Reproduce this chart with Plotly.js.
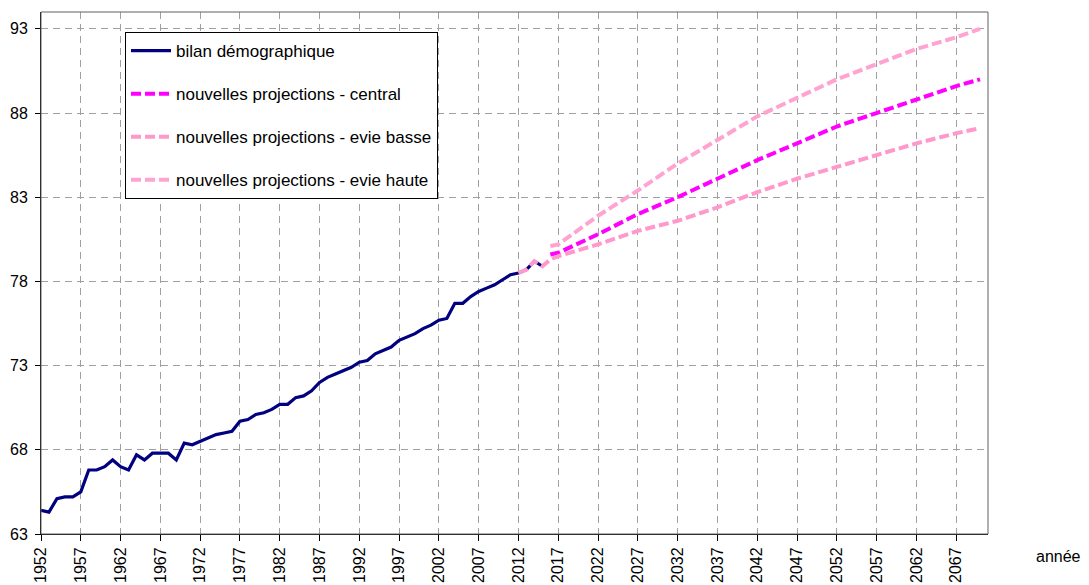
<!DOCTYPE html>
<html>
<head>
<meta charset="utf-8">
<script src="https://cdn.plot.ly/plotly-3.0.1.min.js"></script>
<style>
  html, body { margin: 0; padding: 0; background: #fff; }
  #chart { width: 1089px; height: 585px; }
</style>
</head>
<body>
<div id="chart"></div>
<script>
// ---- data ----
const histYears = [1952,1953,1954,1955,1956,1957,1958,1959,1960,1961,1962,1963,1964,1965,1966,1967,1968,1969,
  1970,1971,1972,1973,1974,1975,1976,1977,1978,1979,1980,1981,1982,1983,1984,1985,1986,1987,1988,1989,
  1990,1991,1992,1993,1994,1995,1996,1997,1998,1999,2000,2001,2002,2003,2004,2005,2006,2007,2008,2009,
  2010,2011,2012,2013,2014,2015];
const histValues = [64.4,64.3,65.1,65.2,65.2,65.5,66.8,66.8,67.0,67.4,67.0,66.8,67.7,67.4,67.8,67.8,67.8,67.4,
  68.4,68.3,68.5,68.7,68.9,69.0,69.1,69.7,69.8,70.1,70.2,70.4,70.7,70.7,71.1,71.2,71.5,72.0,72.3,72.5,
  72.7,72.9,73.2,73.3,73.7,73.9,74.1,74.5,74.7,74.9,75.2,75.4,75.7,75.8,76.7,76.7,77.1,77.4,77.6,77.8,
  78.1,78.4,78.5,78.7,79.2,78.9];

const centralYears = [2016,2017,2022,2027,2032,2037,2042,2047,2052,2057,2062,2067,2070];
const centralValues = [79.6,79.7,80.8,82.0,83.0,84.1,85.2,86.2,87.2,88.0,88.8,89.6,90.0];

const basseYears = [2012,2013,2014,2015,2016,2017,2022,2027,2032,2037,2042,2047,2052,2057,2062,2067,2070];
const basseValues = [78.5,78.7,79.2,78.9,79.3,79.5,80.2,81.0,81.6,82.4,83.3,84.1,84.8,85.5,86.2,86.8,87.1];

const hauteYears = [2016,2017,2022,2027,2032,2037,2042,2047,2052,2057,2062,2067,2070];
const hauteValues = [80.1,80.2,81.9,83.4,85.0,86.4,87.8,88.9,90.0,90.9,91.8,92.5,93.0];

const seriesNames = ["bilan démographique","nouvelles projections - central",
  "nouvelles projections - evie basse","nouvelles projections - evie haute"];

const xTickVals = [];
for (let y = 1952; y <= 2067; y += 5) xTickVals.push(y);
const yTickVals = [63,68,73,78,83,88,93];

const FONT = '"Liberation Sans", Arial, sans-serif';
const dash = "10px,4px";

const traces = [
  {x: histYears, y: histValues, name: seriesNames[0], mode: "lines", legendgroup: "a",
   line: {color: "#000080", width: 3.2}},
  {x: centralYears, y: centralValues, name: seriesNames[1], mode: "lines", legendgroup: "b",
   line: {color: "#FF00FF", width: 4, dash: dash}},
  {x: basseYears, y: basseValues, name: seriesNames[2], mode: "lines", legendgroup: "c",
   line: {color: "#FF99CC", width: 4, dash: dash}},
  {x: hauteYears, y: hauteValues, name: seriesNames[3], mode: "lines", legendgroup: "d",
   line: {color: "#FFA3D1", width: 4, dash: dash}}
];

const layout = {
  width: 1089, height: 585,
  margin: {l: 41, r: 101, t: 12, b: 51, pad: 0},
  paper_bgcolor: "#fff", plot_bgcolor: "#fff",
  font: {family: FONT, size: 16, color: "#000"},
  showlegend: true,
  legend: {
    x: 0.0887, y: 0.9617, xanchor: "left", yanchor: "top",
    bgcolor: "#fff", bordercolor: "#000", borderwidth: 1,
    font: {family: FONT, size: 17, color: "#000"},
    traceorder: "grouped", tracegroupgap: 18, itemwidth: 40
  },
  xaxis: {
    type: "linear", range: [1952, 2071],
    tickmode: "array", tickvals: xTickVals, ticktext: xTickVals.map(String),
    tickangle: -90, ticks: "outside", ticklen: 6, tickcolor: "#000", tickwidth: 1,
    showline: true, linecolor: "#000", linewidth: 1,
    showgrid: true, gridcolor: "#a0a0a0", gridwidth: 1, griddash: "7px,5px",
    zeroline: false, tickfont: {family: FONT, size: 16, color: "#000"}
  },
  yaxis: {
    range: [63, 94],
    tickmode: "array", tickvals: yTickVals, ticktext: yTickVals.map(String),
    ticks: "outside", ticklen: 5, tickcolor: "#000", tickwidth: 1,
    showline: true, linecolor: "#000", linewidth: 1,
    showgrid: true, gridcolor: "#a0a0a0", gridwidth: 1, griddash: "7px,5px",
    zeroline: false, tickfont: {family: FONT, size: 16, color: "#000"},
    ticklabelstandoff: 4
  },
  shapes: [
    {type: "rect", xref: "paper", yref: "paper", x0: 0, x1: 1, y0: 0, y1: 1,
     line: {color: "#606060", width: 1}, fillcolor: "rgba(0,0,0,0)", layer: "above"}
  ],
  annotations: [
    {text: "année", xref: "paper", yref: "paper", x: 1.049, y: -0.043,
     xanchor: "left", yanchor: "middle", showarrow: false,
     font: {family: FONT, size: 16, color: "#000"}}
  ]
};

Plotly.newPlot("chart", traces, layout, {staticPlot: true, displayModeBar: false});
</script>
</body>
</html>
